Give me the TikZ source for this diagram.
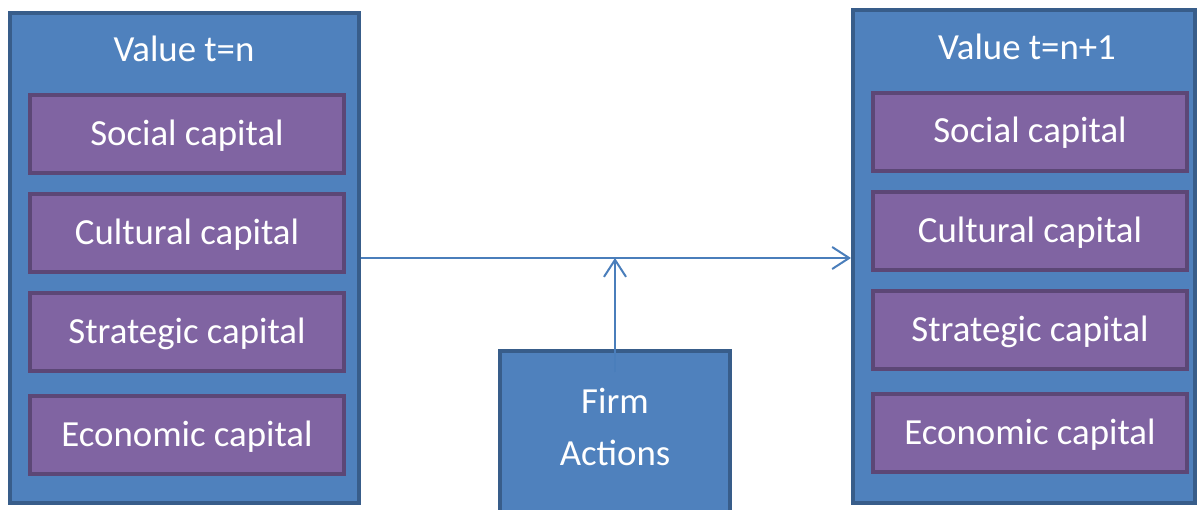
\documentclass[tikz,border=0pt]{standalone}
\usepackage{fontspec}
\setmainfont{Carlito}
\usetikzlibrary{arrows.meta}

\definecolor{valblue}{HTML}{4F81BD}
\definecolor{valedge}{HTML}{385D8A}
\definecolor{cappurple}{HTML}{8064A2}
\definecolor{capedge}{HTML}{5C4776}
\definecolor{flowblue}{HTML}{4A7EBB}

\tikzset{
  valbox/.style={draw=valedge, fill=valblue, line width=2pt, inner sep=0pt},
  capbox/.style={draw=capedge, fill=cappurple, line width=2pt, inner sep=0pt, minimum width=157pt, minimum height=39pt, text height=14.7pt, text depth=3.7pt, text=white, font=\fontsize{18.4}{22}\selectfont},
  boxtext/.style={text=white, font=\fontsize{18.4}{26}\selectfont, align=center},
  flow/.style={draw=flowblue, line width=1pt, -{Straight Barb[length=8.5pt,width=11pt]}}
}

\begin{document}
\begin{tikzpicture}[x=0.5pt,y=-0.5pt]
\clip (0,0) rectangle (1200,509);
\fill[white] (0,0) rectangle (1200,509);

% the two value boxes
\node[valbox, minimum width=174.5pt, minimum height=245pt] (ValueN) at (184.5,258) {};
\node[valbox, minimum width=171pt, minimum height=246.5pt] (ValueNext) at (1024,256.5) {};
\node[boxtext] (LabelN) at (184,49) {Value t=n};
\node[boxtext] (LabelNext) at (1027,47) {Value t=n+1};

% the capitals
\foreach \y/\t [count=\i] in {134/Social capital,233/Cultural capital,332/Strategic capital,435/Economic capital}
  \node[capbox] (CapN\i) at (187,\y) {\t};
\foreach \y/\t [count=\i] in {131.5/Social capital,231/Cultural capital,330/Strategic capital,433/Economic capital}
  \node[capbox] (CapNext\i) at (1030,\y) {\t};

% the firm actions
\node[valbox, anchor=north, minimum width=115pt, minimum height=100pt] (Firm) at (615,349) {};
\node[boxtext] (FirmLabel) at (615,427) {Firm\\Actions};

\draw[flow] (ValueN.east) -- (ValueNext.west |- ValueN.east);
\draw[flow] ([yshift=-11.5pt]Firm.north) -- (Firm.north |- ValueN.east);
\end{tikzpicture}
\end{document}
